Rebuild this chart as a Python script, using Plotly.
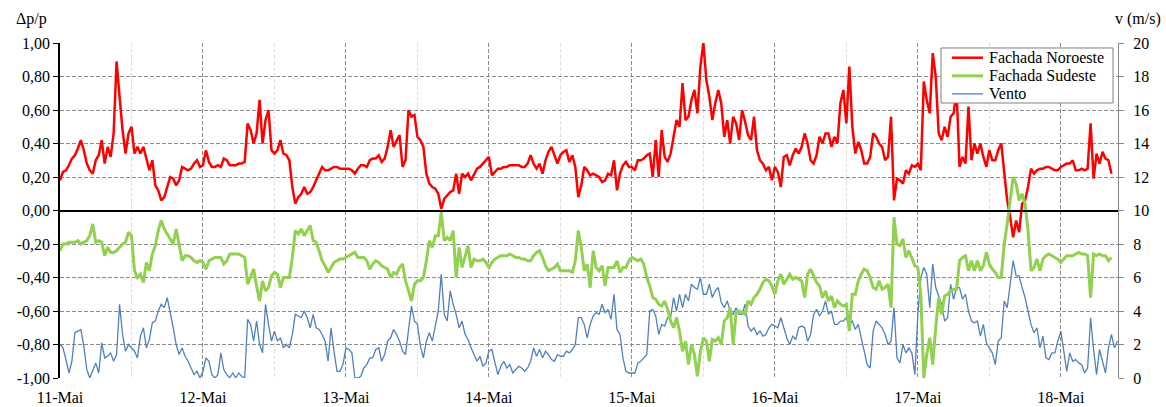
import pandas as pd
import plotly.graph_objects as go

# Half-hourly pressure coefficient Δp/p, one inner list per day (11-Mai .. 18-Mai)
noroeste = [
    [0.18, 0.23, 0.24, 0.27, 0.31, 0.33, 0.37, 0.42, 0.36, 0.28, 0.24, 0.22, 0.30, 0.33, 0.42, 0.28,
     0.38, 0.32, 0.46, 0.89, 0.68, 0.48, 0.34, 0.46, 0.50, 0.34, 0.38, 0.34, 0.38, 0.30, 0.24, 0.30,
     0.15, 0.12, 0.06, 0.08, 0.14, 0.20, 0.19, 0.15, 0.18, 0.26, 0.25, 0.24, 0.25, 0.28, 0.30, 0.26],
    [0.27, 0.36, 0.29, 0.26, 0.26, 0.27, 0.26, 0.31, 0.30, 0.27, 0.27, 0.27, 0.28, 0.28, 0.29, 0.52,
     0.48, 0.40, 0.46, 0.66, 0.40, 0.54, 0.60, 0.36, 0.34, 0.36, 0.42, 0.34, 0.33, 0.30, 0.14, 0.04,
     0.08, 0.10, 0.14, 0.10, 0.11, 0.14, 0.18, 0.22, 0.26, 0.24, 0.24, 0.25, 0.26, 0.26, 0.25, 0.25],
    [0.25, 0.25, 0.24, 0.22, 0.25, 0.27, 0.27, 0.26, 0.30, 0.31, 0.31, 0.33, 0.29, 0.31, 0.38, 0.48,
     0.38, 0.42, 0.45, 0.26, 0.30, 0.60, 0.56, 0.57, 0.44, 0.42, 0.38, 0.22, 0.16, 0.14, 0.13, 0.10,
     0.01, 0.07, 0.09, 0.11, 0.12, 0.22, 0.10, 0.22, 0.20, 0.22, 0.18, 0.22, 0.25, 0.26, 0.28, 0.30],
    [0.32, 0.21, 0.23, 0.25, 0.25, 0.26, 0.26, 0.27, 0.27, 0.27, 0.27, 0.26, 0.26, 0.28, 0.33, 0.28,
     0.25, 0.28, 0.22, 0.30, 0.35, 0.38, 0.33, 0.28, 0.33, 0.35, 0.36, 0.29, 0.33, 0.26, 0.08, 0.15,
     0.26, 0.24, 0.21, 0.22, 0.21, 0.20, 0.17, 0.18, 0.22, 0.21, 0.30, 0.12, 0.22, 0.27, 0.29, 0.26],
    [0.26, 0.24, 0.30, 0.30, 0.31, 0.33, 0.34, 0.20, 0.42, 0.20, 0.48, 0.32, 0.29, 0.34, 0.44, 0.54,
     0.50, 0.76, 0.54, 0.56, 0.66, 0.72, 0.58, 0.86, 1.00, 0.78, 0.68, 0.54, 0.64, 0.72, 0.64, 0.44,
     0.54, 0.40, 0.56, 0.52, 0.42, 0.60, 0.53, 0.45, 0.42, 0.56, 0.36, 0.30, 0.28, 0.24, 0.26, 0.18],
    [0.26, 0.23, 0.14, 0.32, 0.33, 0.27, 0.33, 0.37, 0.34, 0.38, 0.46, 0.40, 0.30, 0.28, 0.33, 0.44,
     0.40, 0.46, 0.46, 0.38, 0.44, 0.40, 0.64, 0.72, 0.52, 0.86, 0.50, 0.34, 0.41, 0.36, 0.28, 0.28,
     0.32, 0.46, 0.44, 0.40, 0.38, 0.30, 0.32, 0.56, 0.06, 0.19, 0.18, 0.16, 0.24, 0.22, 0.27, 0.26],
    [0.28, 0.24, 0.77, 0.66, 0.58, 0.94, 0.80, 0.46, 0.42, 0.50, 0.44, 0.56, 0.58, 0.72, 0.26, 0.32,
     0.28, 0.62, 0.30, 0.40, 0.34, 0.40, 0.32, 0.26, 0.36, 0.30, 0.30, 0.36, 0.40, 0.24, 0.06, -0.04,
     -0.16, -0.06, -0.13, 0.04, 0.06, 0.14, 0.25, 0.22, 0.24, 0.25, 0.25, 0.26, 0.26, 0.25, 0.24, 0.24],
    [0.26, 0.27, 0.28, 0.28, 0.30, 0.24, 0.24, 0.25, 0.24, 0.25, 0.52, 0.19, 0.34, 0.28, 0.35, 0.31,
     0.30, 0.22],
]

sudeste = [
    [-0.24, -0.20, -0.20, -0.19, -0.19, -0.19, -0.18, -0.20, -0.19, -0.18, -0.15, -0.08, -0.19, -0.18, -0.19, -0.27,
     -0.22, -0.25, -0.25, -0.24, -0.22, -0.20, -0.19, -0.13, -0.15, -0.36, -0.40, -0.38, -0.43, -0.31, -0.36, -0.26,
     -0.21, -0.12, -0.06, -0.11, -0.14, -0.17, -0.20, -0.11, -0.21, -0.30, -0.27, -0.27, -0.28, -0.30, -0.31, -0.30],
    [-0.31, -0.35, -0.30, -0.29, -0.28, -0.28, -0.28, -0.32, -0.30, -0.26, -0.26, -0.26, -0.26, -0.27, -0.28, -0.44,
     -0.40, -0.35, -0.45, -0.54, -0.42, -0.48, -0.46, -0.39, -0.37, -0.38, -0.46, -0.40, -0.40, -0.40, -0.28, -0.12,
     -0.14, -0.11, -0.15, -0.12, -0.09, -0.18, -0.19, -0.24, -0.30, -0.33, -0.37, -0.34, -0.31, -0.30, -0.29, -0.29],
    [-0.28, -0.27, -0.26, -0.25, -0.28, -0.28, -0.28, -0.30, -0.35, -0.32, -0.30, -0.31, -0.33, -0.34, -0.35, -0.40,
     -0.37, -0.38, -0.34, -0.32, -0.42, -0.48, -0.54, -0.44, -0.42, -0.42, -0.40, -0.30, -0.18, -0.22, -0.15, -0.15,
     -0.01, -0.18, -0.16, -0.18, -0.12, -0.40, -0.22, -0.34, -0.28, -0.21, -0.34, -0.29, -0.30, -0.30, -0.29, -0.31],
    [-0.34, -0.31, -0.29, -0.28, -0.27, -0.27, -0.27, -0.26, -0.27, -0.28, -0.28, -0.29, -0.29, -0.30, -0.30, -0.27,
     -0.25, -0.24, -0.28, -0.33, -0.36, -0.35, -0.34, -0.32, -0.36, -0.36, -0.36, -0.36, -0.37, -0.30, -0.12, -0.22,
     -0.36, -0.32, -0.46, -0.24, -0.34, -0.36, -0.33, -0.45, -0.34, -0.34, -0.34, -0.30, -0.37, -0.34, -0.34, -0.30],
    [-0.28, -0.29, -0.30, -0.29, -0.32, -0.40, -0.45, -0.52, -0.53, -0.56, -0.57, -0.54, -0.59, -0.66, -0.70, -0.64,
     -0.72, -0.84, -0.78, -0.92, -0.80, -0.86, -0.99, -0.84, -0.76, -0.78, -0.90, -0.77, -0.78, -0.76, -0.80, -0.66,
     -0.64, -0.58, -0.80, -0.61, -0.60, -0.61, -0.62, -0.54, -0.56, -0.52, -0.50, -0.47, -0.43, -0.41, -0.42, -0.45],
    [-0.50, -0.42, -0.38, -0.44, -0.41, -0.38, -0.41, -0.40, -0.41, -0.42, -0.52, -0.38, -0.35, -0.39, -0.43, -0.45,
     -0.52, -0.48, -0.54, -0.51, -0.58, -0.54, -0.56, -0.57, -0.56, -0.72, -0.50, -0.50, -0.42, -0.38, -0.35, -0.36,
     -0.40, -0.46, -0.47, -0.42, -0.47, -0.46, -0.44, -0.58, -0.04, -0.20, -0.21, -0.17, -0.28, -0.24, -0.28, -0.33],
    [-0.34, -0.50, -1.00, -0.86, -0.76, -0.92, -0.70, -0.52, -0.62, -0.51, -0.50, -0.48, -0.47, -0.47, -0.30, -0.28,
     -0.27, -0.36, -0.30, -0.36, -0.30, -0.36, -0.33, -0.25, -0.32, -0.35, -0.37, -0.40, -0.40, -0.20, -0.08, 0.06,
     0.20, 0.16, 0.06, 0.10, 0.04, -0.12, -0.36, -0.34, -0.29, -0.36, -0.29, -0.27, -0.26, -0.27, -0.28, -0.29],
    [-0.31, -0.29, -0.27, -0.27, -0.27, -0.26, -0.25, -0.26, -0.26, -0.27, -0.52, -0.26, -0.27, -0.26, -0.27, -0.27,
     -0.30, -0.28],
]

# Half-hourly wind speed v (m/s)
vento = [
    [2.0, 1.8, 1.1, 0.3, 1.0, 2.7, 2.8, 2.9, 1.9, 0.5, 0.0, 0.5, 0.9, 0.3, 2.1, 1.2,
     1.3, 1.5, 1.0, 1.4, 4.4, 2.6, 1.6, 2.0, 1.8, 1.6, 1.2, 2.5, 3.0, 1.8, 2.3, 3.3,
     3.4, 4.0, 4.4, 4.2, 4.8, 4.0, 3.0, 2.0, 1.4, 1.8, 1.3, 1.0, 0.6, 0.2, 0.4, 0.0],
    [0.4, 1.2, 1.0, 0.2, 0.0, 0.2, 1.5, 0.5, 0.2, 0.0, 0.3, 0.0, 0.3, 0.1, 0.0, 3.5,
     3.2, 2.2, 3.4, 2.0, 1.5, 4.4, 3.2, 2.2, 2.8, 2.2, 2.4, 1.8, 2.0, 1.8, 2.6, 3.8,
     3.7, 3.6, 4.0, 3.6, 3.0, 3.8, 3.0, 2.9, 2.6, 2.2, 1.0, 3.0, 1.6, 0.4, 0.4, 0.8],
    [1.8, 1.7, 1.5, 0.0, 0.0, 0.1, 0.6, 0.8, 1.2, 1.2, 1.7, 1.8, 1.0, 1.4, 2.2, 2.4,
     2.9, 2.6, 2.2, 1.6, 1.4, 2.8, 4.3, 3.4, 3.2, 1.9, 1.2, 2.2, 2.7, 2.2, 3.1, 4.0,
     6.2, 3.8, 3.4, 5.2, 4.4, 3.8, 3.0, 3.4, 2.6, 2.3, 1.8, 1.4, 1.0, 1.3, 0.7, 0.9],
    [1.6, 1.7, 1.0, 0.2, 0.7, 1.0, 0.6, 0.8, 0.3, 0.5, 0.7, 0.6, 0.4, 0.6, 1.0, 1.8,
     1.3, 1.7, 1.2, 1.6, 1.4, 1.1, 1.0, 1.4, 1.3, 1.3, 1.6, 1.5, 1.7, 2.0, 3.6, 3.6,
     3.2, 2.4, 3.2, 3.7, 3.9, 3.8, 4.4, 3.9, 4.1, 3.5, 5.0, 2.9, 2.6, 1.2, 0.4, 0.3],
    [0.3, 0.3, 0.9, 1.0, 1.2, 1.4, 4.0, 4.1, 3.7, 2.6, 3.2, 3.1, 3.6, 3.6, 4.8, 4.0,
     5.0, 4.2, 5.0, 4.6, 5.6, 5.4, 5.3, 6.0, 5.0, 5.0, 5.6, 4.8, 5.2, 5.4, 4.5, 4.2,
     4.6, 4.0, 3.8, 4.2, 3.8, 3.8, 4.4, 3.1, 2.8, 3.0, 2.6, 2.8, 2.5, 2.6, 3.0, 3.2],
    [3.1, 3.0, 3.6, 3.0, 2.4, 2.0, 2.5, 2.3, 3.0, 3.1, 3.0, 2.2, 2.6, 3.8, 4.1, 3.7,
     4.0, 4.6, 3.8, 4.0, 3.2, 3.2, 3.4, 3.4, 3.6, 3.2, 3.4, 2.9, 3.2, 2.4, 1.6, 0.8,
     0.6, 2.8, 3.4, 3.2, 3.0, 2.6, 2.0, 2.2, 4.2, 1.2, 0.9, 2.0, 1.5, 1.8, 1.5, 0.2],
    [3.8, 6.0, 6.6, 6.2, 4.2, 6.8, 5.4, 4.9, 4.4, 3.4, 3.6, 5.6, 4.7, 5.4, 5.4, 4.7,
     5.0, 4.0, 3.4, 3.3, 3.4, 2.5, 3.2, 2.1, 1.8, 1.5, 0.8, 2.2, 2.4, 4.6, 4.2, 5.8,
     7.0, 6.1, 6.1, 5.4, 4.8, 4.0, 3.2, 2.7, 3.0, 1.8, 2.5, 1.2, 1.1, 1.5, 1.5, 2.2],
    [2.8, 1.6, 0.4, 1.5, 1.0, 1.1, 0.9, 0.8, 0.3, 0.6, 3.6, 1.7, 0.2, 1.7, 1.0, 0.3,
     1.8, 2.6, 1.8, 2.2],
]

day_starts = pd.date_range("2013-05-11", "2013-05-18", freq="D")
day_labels = ["11-Mai", "12-Mai", "13-Mai", "14-Mai", "15-Mai", "16-Mai", "17-Mai", "18-Mai"]
dp_ticks = [-1.0, -0.8, -0.6, -0.4, -0.2, 0.0, 0.2, 0.4, 0.6, 0.8, 1.0]
dp_labels = ["-1,00", "-0,80", "-0,60", "-0,40", "-0,20", "0,00", "0,20", "0,40", "0,60", "0,80", "1,00"]
v_ticks = [0, 2, 4, 6, 8, 10, 12, 14, 16, 18, 20]

series_names = ["Fachada Noroeste", "Fachada Sudeste", "Vento"]
series_colors = ["#ff0000", "#92d050", "#4f81bd"]
series_widths = [2.5, 3, 1.3]


def flatten(days):
    """Turn per-day half-hourly lists into (timestamps, values)."""
    xs, ys = [], []
    for start, values in zip(day_starts, days):
        xs.extend(start + pd.Timedelta(minutes=30 * k) for k in range(len(values)))
        ys.extend(values)
    return xs, ys


x_no, y_no = flatten(noroeste)
x_su, y_su = flatten(sudeste)
x_ve, y_ve = flatten(vento)

x_end = pd.Timestamp("2013-05-18 09:36")
FONT = "Liberation Serif, Times New Roman, DejaVu Serif, serif"
GRID = "#8c8c8c"

fig = go.Figure()
fig.add_trace(go.Scatter(x=x_no, y=y_no, name=series_names[0], mode="lines",
                         line=dict(color=series_colors[0], width=series_widths[0]), yaxis="y"))
fig.add_trace(go.Scatter(x=x_su, y=y_su, name=series_names[1], mode="lines",
                         line=dict(color=series_colors[1], width=series_widths[1]), yaxis="y"))
fig.add_trace(go.Scatter(x=x_ve, y=y_ve, name=series_names[2], mode="lines",
                         line=dict(color=series_colors[2], width=series_widths[2]), yaxis="y2"))
# empty trace carrying the day ticks drawn on the zero line
fig.add_trace(go.Scatter(x=[], y=[], xaxis="x2", yaxis="y", showlegend=False, hoverinfo="skip"))

# Compact boxed legend in the upper-right corner of the plot area (paper coordinates)
box = dict(x0=0.8327, x1=0.9953, y0=0.8209, y1=0.9851)
row_y = [0.9561, 0.9020, 0.8480]
sample_x = (0.8431, 0.8724)
text_x = 0.8762

shapes = [dict(type="rect", xref="paper", yref="paper", layer="above",
               line=dict(color="#7f7f7f", width=1), fillcolor="white", **box)]
annotations = []
for name, color, width, yy in zip(series_names, series_colors, series_widths, row_y):
    shapes.append(dict(type="line", xref="paper", yref="paper", layer="above",
                       x0=sample_x[0], x1=sample_x[1], y0=yy, y1=yy,
                       line=dict(color=color, width=width)))
    annotations.append(dict(text=name, xref="paper", yref="paper", x=text_x, y=yy,
                            xanchor="left", yanchor="middle", showarrow=False,
                            font=dict(family=FONT, size=16, color="black")))

annotations += [
    dict(text="Δp/p", xref="paper", yref="paper", x=-0.027, y=1.072,
         xanchor="center", yanchor="middle", showarrow=False, font=dict(family=FONT, size=16)),
    dict(text="v (m/s)", xref="paper", yref="paper", x=1.019, y=1.072,
         xanchor="center", yanchor="middle", showarrow=False, font=dict(family=FONT, size=16)),
]

fig.update_layout(
    width=1166, height=407,
    margin=dict(l=60, r=48, t=43, b=29, autoexpand=False),
    paper_bgcolor="white", plot_bgcolor="white",
    font=dict(family=FONT, size=16, color="black"),
    showlegend=False,
    xaxis=dict(range=[day_starts[0], x_end], tickvals=day_starts, ticktext=day_labels,
               showgrid=True, gridcolor=GRID, griddash="4px,2px", gridwidth=1,
               minor=dict(dtick=12 * 3600 * 1000, showgrid=True, gridcolor="#e4e0d2", griddash="4px,2px"),
               showline=False, ticks="outside", ticklen=5, tickcolor="rgba(0,0,0,0)",
               zeroline=False, automargin=False, tickfont=dict(family=FONT, size=16)),
    xaxis2=dict(range=[day_starts[0], x_end], overlaying="x", anchor="free", position=0.5,
                tickvals=day_starts, showticklabels=False, showgrid=False, showline=True, automargin=False,
                linecolor="black", linewidth=1.5, ticks="outside", ticklen=4, tickcolor="black", zeroline=False),
    yaxis=dict(range=[-1, 1], tickvals=dp_ticks, ticktext=dp_labels, overlaying="y2", side="left",
               showgrid=True, gridcolor=GRID, griddash="4px,2px", gridwidth=1,
               zeroline=True, zerolinecolor="black", zerolinewidth=1.5, automargin=False,
               showline=True, linecolor="black", linewidth=1.5, ticks="outside", ticklen=5,
               tickcolor="black", tickfont=dict(family=FONT, size=16)),
    yaxis2=dict(range=[0, 20], tickvals=v_ticks, side="right", anchor="x", automargin=False,
                showgrid=False, zeroline=False, showline=True, linecolor="#868686", linewidth=1.2,
                ticks="outside", ticklen=5, tickcolor="#868686", tickfont=dict(family=FONT, size=16),
                ticklabelstandoff=6),
    shapes=shapes,
    annotations=annotations,
)

fig.write_html("out.html")
